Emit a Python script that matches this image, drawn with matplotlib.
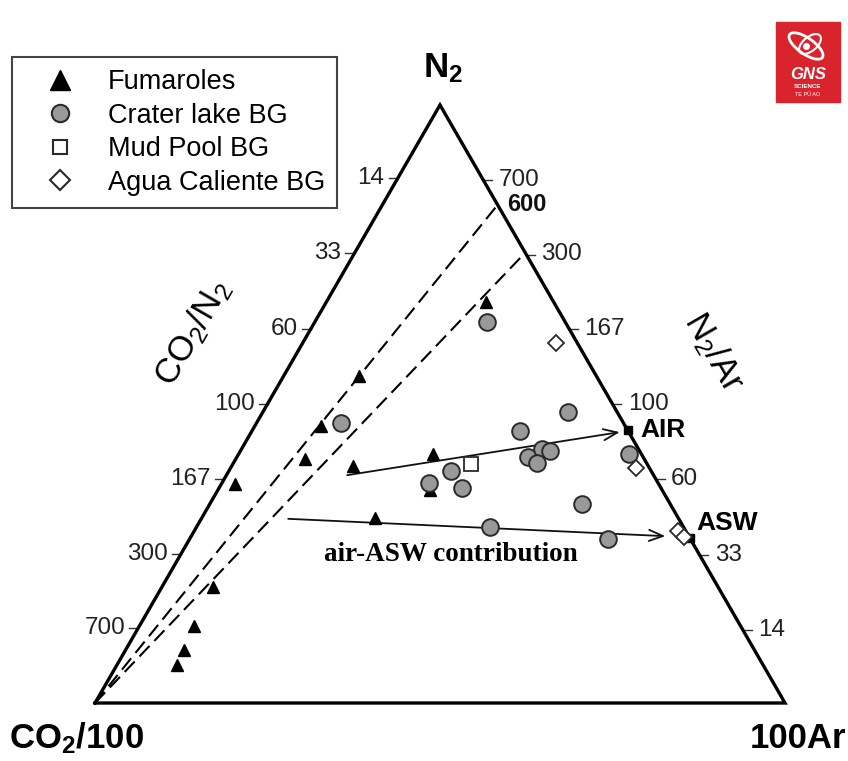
import numpy as np
import matplotlib.pyplot as plt
from matplotlib.lines import Line2D
from matplotlib.patches import Rectangle, Ellipse, FancyArrowPatch

plt.rcParams["font.family"] = ["Liberation Sans", "DejaVu Sans"]
plt.rcParams["mathtext.fontset"] = "custom"
plt.rcParams["mathtext.rm"] = "Liberation Sans"
plt.rcParams["mathtext.it"] = "Liberation Sans:italic"
plt.rcParams["mathtext.bf"] = "Liberation Sans:bold"

# sample compositions in % of N2 and 100Ar (CO2/100 is the rest)
fum_n2 = [67.1, 54.7, 46.3, 40.8, 39.6, 41.6, 36.6, 30.9, 35.6, 19.4, 12.9, 8.9, 6.4]
fum_ar = [23.1, 10.9, 9.6, 10.0, 17.6, 28.2, 2.0, 25.1, 30.7, 7.4, 7.9, 8.5, 8.7]
lake_n2 = [63.7, 46.8, 45.5, 48.7, 41.1, 42.5, 42.1, 40.1, 38.8, 36.8, 36.0, 33.3, 29.4, 27.4, 41.6]
lake_ar = [25.0, 12.2, 38.9, 44.2, 42.2, 43.6, 44.9, 44.0, 32.2, 30.0, 35.2, 53.9, 42.5, 60.6, 56.6]
mud_n2 = [40.0]
mud_ar = [34.5]
agua_n2 = [60.2, 39.3, 28.8, 27.8]
agua_ar = [36.7, 58.8, 70.1, 71.5]

co2n2_ticks = [14, 33, 60, 100, 167, 300, 700]
n2ar_ticks = [14, 33, 60, 100, 167, 300, 700]
air_n2ar = 84
asw_n2ar = 38
mix_end_n2 = [83.3, 75.3]   # dashed mixing lines from the CO2 corner end here (N2-Ar side)
arrow_from_n2 = [38.1, 30.8]
arrow_from_ar = [17.5, 12.6]
arrow_to_n2 = [45.3, 27.9]
arrow_to_ar = [53.4, 68.7]

H = np.sqrt(3) / 2


def tern(n2, ar):
    n2 = np.asarray(n2, float) / 100
    ar = np.asarray(ar, float) / 100
    return ar + 0.5 * n2, H * n2


def on_right(ratio):
    # N2/Ar ratio -> point on the N2 - 100Ar side
    n2 = 100 * ratio / (ratio + 100)
    return tern(n2, 100 - n2)


def on_left(ratio):
    # CO2/N2 ratio -> point on the N2 - CO2/100 side
    n2 = 100 / (1 + ratio / 100)
    return tern(n2, 0)


fig = plt.figure(figsize=(8.48, 7.61), dpi=100)
ov = fig.add_axes([0, 0, 1, 1])  # pixel frame for loose labels
ov.set_xlim(0, 848)
ov.set_ylim(761, 0)
ov.axis("off")
ax = fig.add_axes([95 / 848, 58 / 761, 690 / 848, 598 / 761])
ax.set_xlim(0, 1)
ax.set_ylim(0, H)
ax.axis("off")
ax.patch.set_alpha(0)

# triangle
ax.plot([0, 1, 0.5, 0], [0, 0, H, 0], color="k", lw=2.4, clip_on=False,
        solid_joinstyle="miter", zorder=4)

# ticks
TL = 0.013
for r in co2n2_ticks:
    x, y = on_left(r)
    ax.plot([x - TL, x], [y, y], color="#333", lw=1, clip_on=False)
    ax.text(x - 0.019, y, str(r), ha="right", va="center", fontsize=17.5, color="#222")
for r in n2ar_ticks:
    x, y = on_right(r)
    ax.plot([x, x + TL], [y, y], color="#333", lw=1, clip_on=False)
    ax.text(x + 0.022, y, str(r), ha="left", va="center", fontsize=17.5, color="#222")

# CO2 - N2 mixing lines
for n2 in mix_end_n2:
    x, y = tern(n2, 100 - n2)
    ax.plot([0, x], [0, y], color="k", lw=1.5, dashes=(7, 3.3), clip_on=False, zorder=2)
x, y = tern(mix_end_n2[0], 100 - mix_end_n2[0])
ax.text(x + 0.014, y, "600", ha="left", va="center", fontsize=17, fontweight="bold", color="#111")

# air / ASW mixing arrows
for fn, fa, tn, ta in zip(arrow_from_n2, arrow_from_ar, arrow_to_n2, arrow_to_ar):
    ax.add_patch(FancyArrowPatch(tern(fn, fa), tern(tn, ta), arrowstyle="->,head_length=10,head_width=4",
                                 color="#111", lw=1.3, clip_on=False, zorder=2, shrinkA=0, shrinkB=0))

# air and ASW end members
for r, lab, dx_, dy_ in [(air_n2ar, "AIR", 0.018, 0), (asw_n2ar, "ASW", 0.009, 0.022)]:
    x, y = on_right(r)
    ax.plot(x, y, "s", ms=5.5, color="k", clip_on=False, zorder=5)
    ax.text(x + dx_, y + dy_, lab, ha="left", va="center", fontsize=19, fontweight="bold")

ax.text(0.515, 0.215, "air-ASW contribution", ha="center", va="center", fontsize=19.5,
        fontweight="bold", family=["Liberation Serif", "DejaVu Serif"])

# samples
fx, fy = tern(fum_n2, fum_ar)
ax.plot(fx, fy, "^", ms=8.5, color="k", ls="none", clip_on=False, zorder=3)
lx, ly = tern(lake_n2, lake_ar)
ax.plot(lx, ly, "o", ms=12, mfc="#999999", mec="#2a2a2a", mew=1.4, ls="none", clip_on=False, zorder=6)
mx, my = tern(mud_n2, mud_ar)
ax.plot(mx, my, "s", ms=10, mfc="white", mec="#2a2a2a", mew=1.3, ls="none", clip_on=False, zorder=6)
dx, dy = tern(agua_n2, agua_ar)
ax.plot(dx, dy, "D", ms=8.5, mfc="white", mec="#2a2a2a", mew=1.3, ls="none", clip_on=False, zorder=6)

handles = [
    Line2D([], [], marker="^", ms=14, color="k", ls="none"),
    Line2D([], [], marker="o", ms=12.5, mfc="#999999", mec="#2a2a2a", mew=1.5, ls="none"),
    Line2D([], [], marker="s", ms=10, mfc="white", mec="#2a2a2a", mew=1.5, ls="none"),
    Line2D([], [], marker="D", ms=10, mfc="white", mec="#2a2a2a", mew=1.5, ls="none"),
]
labels = ["Fumaroles", "Crater lake BG", "Mud Pool BG", "Agua Caliente BG"]
leg = fig.legend(handles, labels, loc="upper left", bbox_to_anchor=(12 / 848, 1 - 57 / 761),
                 borderaxespad=0, fontsize=19.5, fancybox=False, framealpha=1, edgecolor="#444",
                 handletextpad=0.41, labelspacing=0.28, borderpad=0.45, handlelength=2.67)
leg.get_frame().set_linewidth(1.5)

# corner and side labels
ov.text(443, 77, r"$\mathbf{N_2}$", ha="center", va="baseline", fontsize=25)
ov.text(9, 748, r"$\mathbf{CO_2/100}$", ha="left", va="baseline", fontsize=25)
ov.text(846, 748, "100Ar", ha="right", va="baseline", fontsize=25, fontweight="bold")
ov.text(193, 333, r"CO$_2$/N$_2$", ha="center", va="center", fontsize=25, rotation=60,
        rotation_mode="anchor")
ov.text(714, 352, r"N$_2$/Ar", ha="center", va="center", fontsize=25, rotation=-60,
        rotation_mode="anchor")

# GNS Science logo
ov.add_patch(Rectangle((776, 22), 64, 80, color="#d9232d"))
ov.add_patch(Ellipse((806, 46), 40, 16, angle=35, fill=False, ec="white", lw=2))
ov.add_patch(Ellipse((810, 44), 26, 14, angle=-40, fill=False, ec="white", lw=1.5))
ov.plot(806, 46, "o", ms=4, color="white")
ov.text(808, 79, "GNS", ha="center", va="baseline", fontsize=12, color="white",
        fontweight="bold", style="italic")
ov.text(808, 88, "SCIENCE", ha="center", va="baseline", fontsize=4.5, color="white", fontweight="bold")
ov.text(808, 96, "TE PŪ AO", ha="center", va="baseline", fontsize=4, color="white")

fig.savefig("out.png", dpi=100, facecolor="white")
